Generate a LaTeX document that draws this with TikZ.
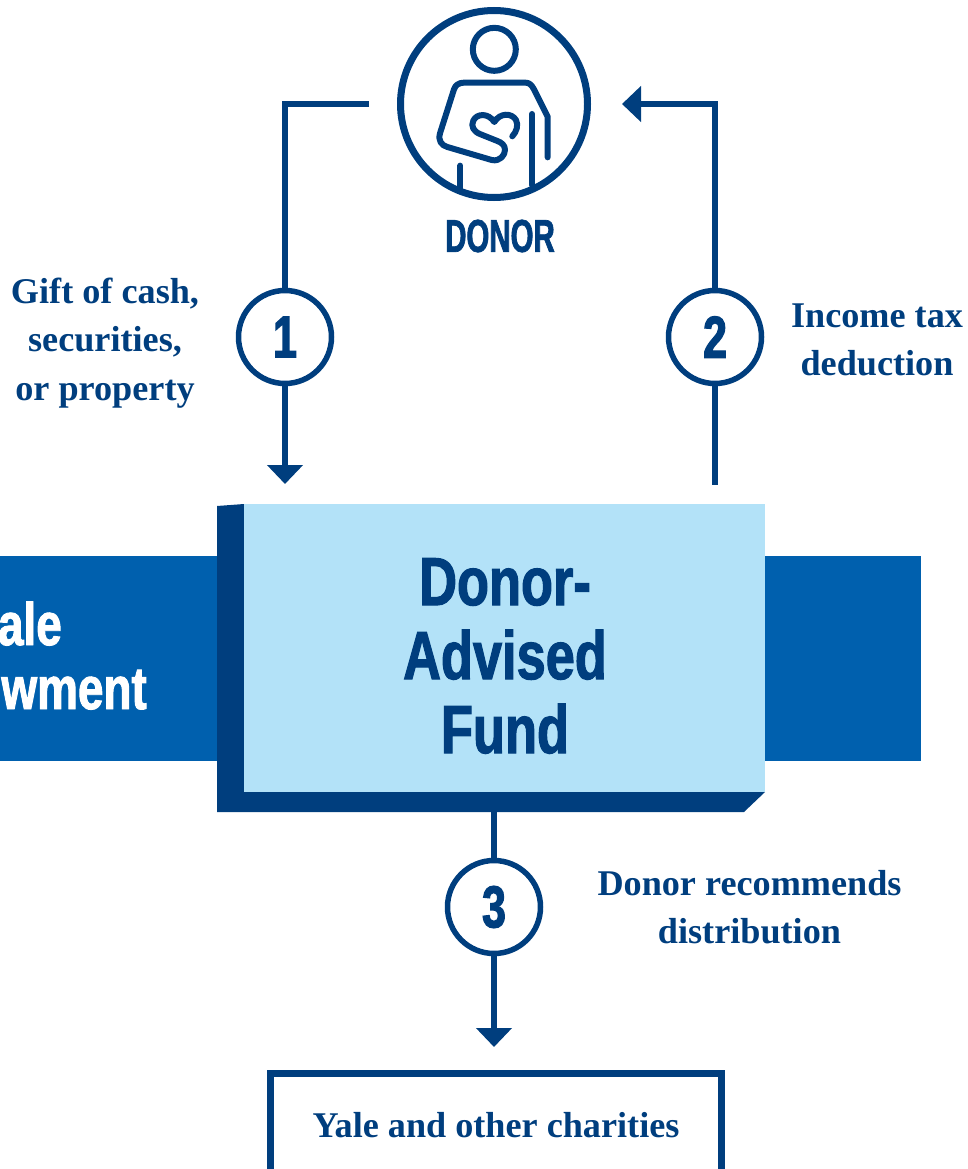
\documentclass[tikz,border=0pt]{standalone}
\usepackage{fontspec}
\setmainfont{Liberation Serif}
\newfontfamily\headfont[FakeStretch=0.77,FakeBold=1.6]{Liberation Sans Bold}
\newfontfamily\narrowfont[FakeStretch=0.64,FakeBold=1.6]{Liberation Sans Bold}
\newfontfamily\numfont[FakeStretch=0.72,FakeBold=2.2]{Liberation Sans Bold}
\newfontfamily\bandfont[FakeStretch=0.765,FakeBold=1.6]{Liberation Sans Bold}
\usetikzlibrary{arrows.meta}
\definecolor{navy}{HTML}{003E7E}
\definecolor{midblue}{HTML}{0060AE}
\definecolor{pale}{HTML}{B3E2F8}
\tikzset{
  flow/.style={draw=navy,line width=6.5pt},
  flowarrow/.style={flow,-{Triangle[length=19pt,width=35pt,inset=0pt]}},
  numcircle/.style={circle,draw=navy,line width=5.5pt,fill=white,minimum size=93pt,inner sep=0pt,text=navy,font=\numfont\fontsize{59}{59}\selectfont},
  serifnote/.style={text=navy,align=center,font=\bfseries\fontsize{36.2}{48.5}\selectfont,inner sep=0pt},
  headtext/.style={align=center,inner sep=0pt,font=\headfont\fontsize{68}{74}\selectfont},
  bandtext/.style={text=white,inner sep=0pt,anchor=base east,font=\bandfont\fontsize{60}{60}\selectfont},
  icon/.style={draw=navy,line width=6pt,line cap=round,line join=round},
}
\begin{document}
\begin{tikzpicture}[x=1pt,y=-1pt]
\useasboundingbox (0,0) rectangle (967,1169);
\clip (0,0) rectangle (967,1169);
% band and fund box
\fill[midblue] (0,556) rectangle (220,761);
\fill[midblue] (760,556) rectangle (921,761);
\fill[navy] (217,506) -- (244,504) -- (765,792) -- (744,812) -- (217,812) -- cycle;
\node[fill=pale,minimum width=521pt,minimum height=288pt,inner sep=0pt,anchor=north west] (fund) at (244,504) {};
\node[headtext,text=navy] (fundlabel) at (505,656) {Donor-\\Advised\\Fund};
\node[bandtext] (endow1) at (62,645) {ale};
\node[bandtext] (endow2) at (147,709) {wment};
% donor icon
\node[circle,draw=navy,line width=7pt,minimum size=187pt,inner sep=0pt] (donor) at (494,104) {};
\begin{scope}[shift={(380,0)},x=0.3333pt,y=-0.3333pt]
\draw[icon] (343,148) circle[radius=64.5];
\draw[icon] (503,472) -- (503,350) -- (462,268) .. controls (454,254) and (448,248) .. (436,248)
  -- (252,248) .. controls (236,248) and (226,256) .. (222,268) -- (180,400)
  .. controls (174,422) and (184,436) .. (202,441) -- (335,480)
  .. controls (360,486) and (375,465) .. (375,450) .. controls (375,435) and (365,428) .. (352,423)
  -- (302,403) .. controls (280,395) and (272,378) .. (280,362) .. controls (290,340) and (325,338) .. (343,366)
  .. controls (360,338) and (395,338) .. (408,360) .. controls (416,375) and (410,395) .. (397,409);
\draw[icon] (456,342) -- (456,555);
\draw[icon] (241,497) -- (241,572);
\end{scope}
\node[text=navy,inner sep=0pt,font=\narrowfont\fontsize{46}{46}\selectfont] (donorlabel) at (500,236) {DONOR};
% numbered steps
\node[numcircle] (one) at (285,337) {1};
\node[numcircle] (two) at (715,337) {2};
\node[numcircle] (three) at (494,907) {3};
\coordinate (outleft) at (369,104);
\coordinate (inright) at (622,104);
\coordinate (oneend) at (285,484);
\coordinate (twostart) at (715,485);
\coordinate (threestart) at (494,812);
\coordinate (threeend) at (494,1047);
\draw[flow] (outleft) -| (one.north);
\draw[flowarrow] (one.south) -- (oneend);
\draw[flow] (two.south) -- (twostart);
\draw[flowarrow] (two.north) |- (inright);
\draw[flow] (threestart) -- (three.north);
\draw[flowarrow] (three.south) -- (threeend);
% notes
\node[serifnote] (note1) at (105,343) {Gift of cash,\\securities,\\or property};
\node[serifnote] (note2) at (877,340) {Income tax\\deduction};
\node[serifnote] (note3) at (749.5,907) {Donor recommends\\distribution};
% charities
\node[draw=navy,line width=7pt,minimum width=451pt,minimum height=130pt,inner sep=0pt,anchor=north west] (charbox) at (266.5,1070) {};
\node[serifnote] (charlabel) at (496,1125) {Yale and other charities};
\end{tikzpicture}
\end{document}
